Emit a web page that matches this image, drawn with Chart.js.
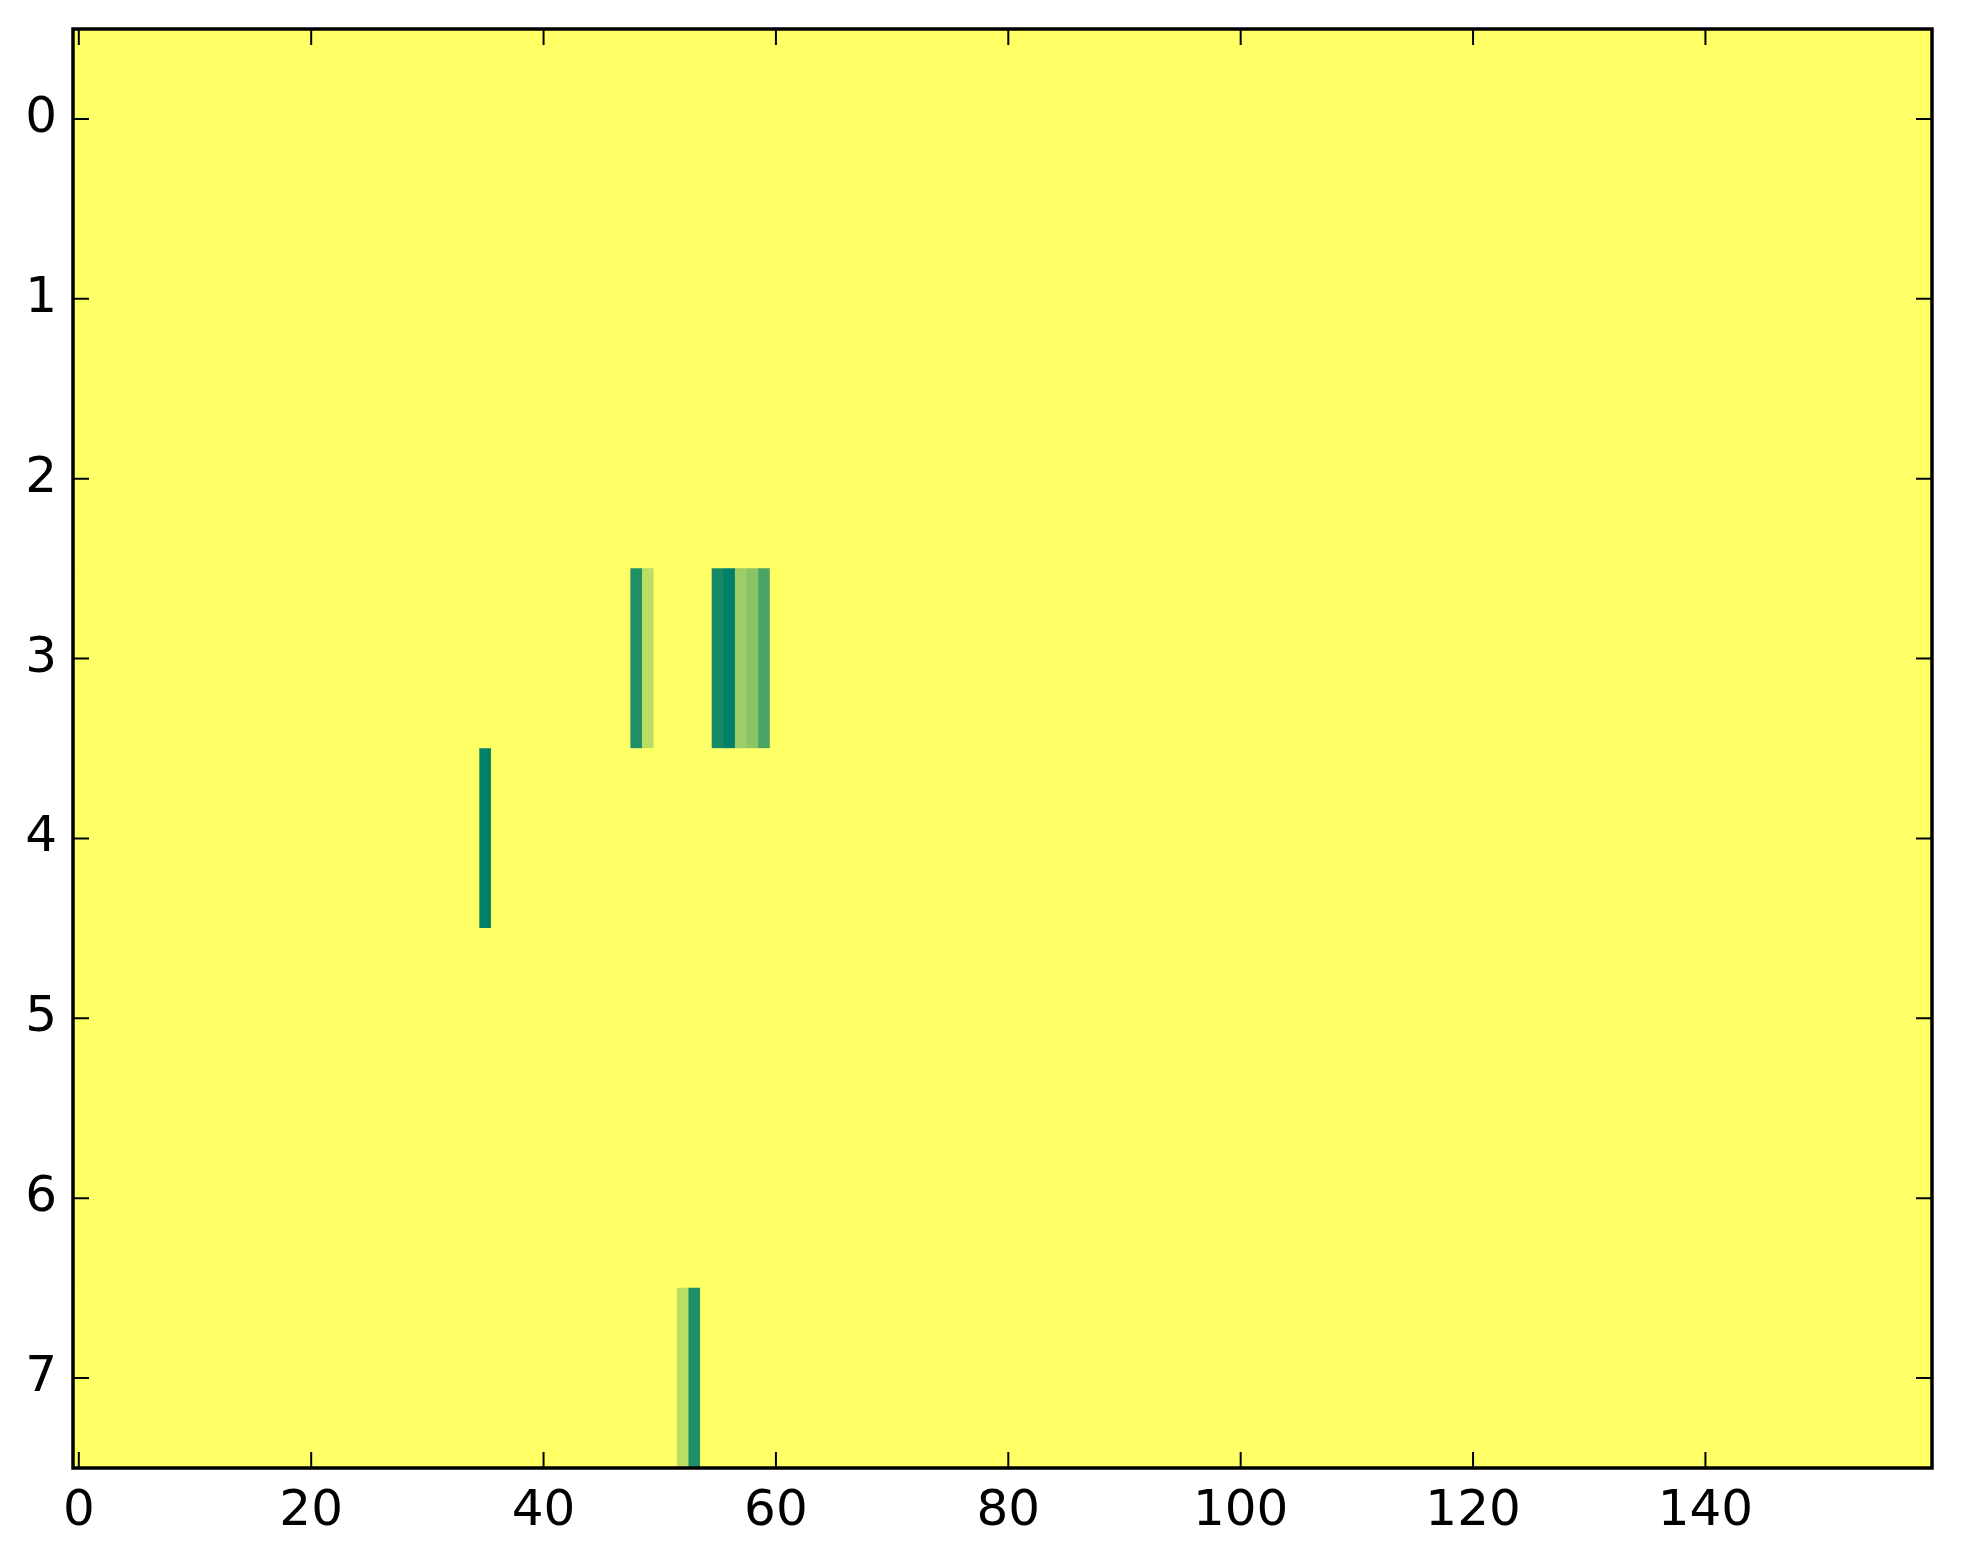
<!DOCTYPE html>
<html>
<head>
<meta charset="utf-8">
<script src="https://cdn.jsdelivr.net/npm/chart.js@4/dist/chart.umd.min.js"></script>
<style>
  html, body { margin: 0; padding: 0; background: #fff; }
  #wrap { width: 1963px; height: 1564px; }
</style>
</head>
<body>
<div id="wrap"><canvas id="heat"></canvas></div>
<script>
// ---- data ----
const ROWS = 8;
const COLS = 160;
const BASE_VALUE = 1;          // every cell not listed below sits at the top of the colormap
const cellRows   = [3, 3, 3, 3, 3, 3, 3, 4, 7, 7];
const cellCols   = [48, 49, 55, 56, 57, 58, 59, 35, 52, 53];
const cellValues = [0.12, 0.73, 0.08, 0, 0.61, 0.54, 0.29, 0, 0.73, 0.12];
const xTicks = [0, 20, 40, 60, 80, 100, 120, 140];
const yTicks = [0, 1, 2, 3, 4, 5, 6, 7];

// matplotlib "summer" colormap
function summer(v) {
    const r = Math.round(255 * v);
    const g = Math.round(255 * (0.5 + v / 2));
    return `rgb(${r}, ${g}, 102)`;
}

// build the cell list (row, col, value)
const cells = [];
for (let r = 0; r < ROWS; r++) {
    for (let c = 0; c < COLS; c++) {
        cells.push({ x: [c - 0.5, c + 0.5], y: r, v: BASE_VALUE });
    }
}
cellRows.forEach((r, i) => {
    cells[r * COLS + cellCols[i]].v = cellValues[i];
});

// frame + inward ticks on all four sides
const frameTicks = {
    id: 'frameTicks',
    afterDraw(chart) {
        const { ctx, chartArea: a, scales: { x, y } } = chart;
        const len = 16;
        ctx.save();
        ctx.strokeStyle = '#000';
        ctx.lineWidth = 2;
        ctx.beginPath();
        xTicks.forEach(t => {
            const px = x.getPixelForValue(t);
            ctx.moveTo(px, a.bottom); ctx.lineTo(px, a.bottom - len);
            ctx.moveTo(px, a.top); ctx.lineTo(px, a.top + len);
        });
        yTicks.forEach(t => {
            const py = y.getPixelForValue(t);
            ctx.moveTo(a.left, py); ctx.lineTo(a.left + len, py);
            ctx.moveTo(a.right, py); ctx.lineTo(a.right - len, py);
        });
        ctx.stroke();
        ctx.lineWidth = 3.5;
        ctx.strokeRect(a.left, a.top, a.right - a.left, a.bottom - a.top);
        ctx.restore();
    }
};

const tickFont = { family: 'DejaVu Sans', size: 50 };

new Chart(document.getElementById('heat').getContext('2d'), {
    type: 'bar',
    data: {
        datasets: [{
            data: cells,
            backgroundColor: ctx => summer(ctx.raw.v),
            borderWidth: 0,
            barPercentage: 1,
            categoryPercentage: 1
        }]
    },
    options: {
        indexAxis: 'y',
        responsive: true,
        maintainAspectRatio: false,
        animation: false,
        layout: { padding: { left: 0, top: 29, right: 31, bottom: 0 } },
        plugins: { legend: { display: false }, tooltip: { enabled: false } },
        scales: {
            x: {
                type: 'linear',
                min: -0.5, max: COLS - 0.5,
                offset: false,
                grid: { display: false, drawTicks: false },
                border: { display: false },
                afterBuildTicks: s => { s.ticks = xTicks.map(v => ({ value: v })); },
                afterFit: s => { s.height = 96; s.paddingLeft = 0; s.paddingRight = 0; },
                ticks: { font: tickFont, color: '#000', padding: 14, maxRotation: 0 }
            },
            y: {
                type: 'linear',
                reverse: true,
                min: -0.5, max: ROWS - 0.5,
                offset: false,
                grid: { display: false, drawTicks: false },
                border: { display: false },
                afterBuildTicks: s => { s.ticks = yTicks.map(v => ({ value: v })); },
                afterFit: s => { s.width = 73; s.paddingTop = 0; s.paddingBottom = 0; },
                ticks: { font: tickFont, color: '#000', padding: 16 }
            }
        }
    },
    plugins: [frameTicks]
});
</script>
</body>
</html>
